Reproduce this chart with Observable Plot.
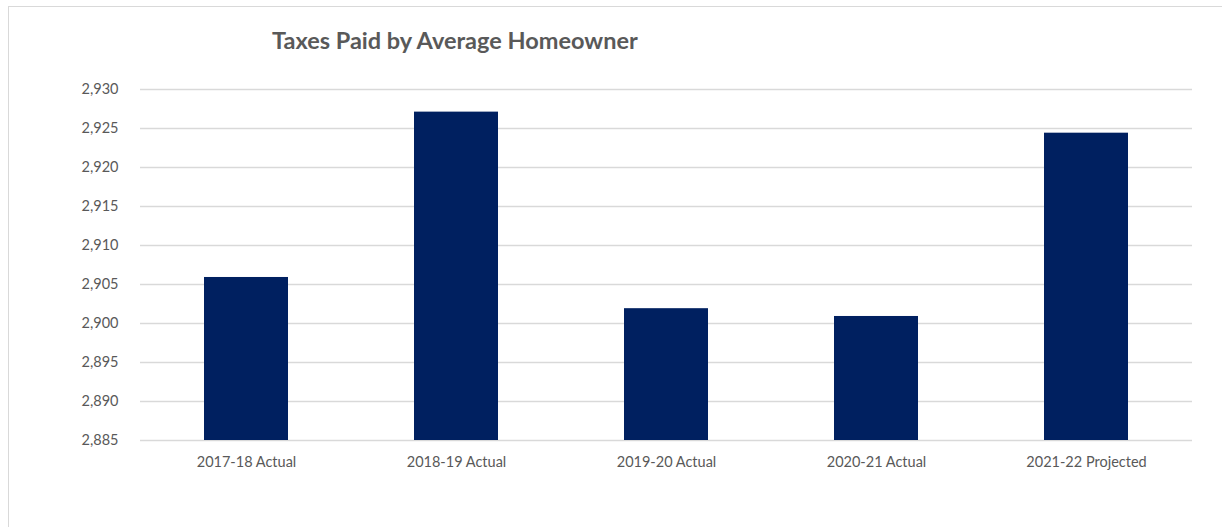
<!DOCTYPE html>
<html>
<head>
<meta charset="utf-8">
<script src="https://cdn.jsdelivr.net/npm/d3@7"></script>
<script src="https://cdn.jsdelivr.net/npm/@observablehq/plot@0.6"></script>
<style>
  html, body { margin: 0; padding: 0; background: #fff; }
  body { width: 1222px; height: 527px; position: relative; overflow: hidden; font-family: Lato, "Open Sans", sans-serif; }
  #frame { position: absolute; left: 8px; top: 6px; width: 1300px; height: 600px; border-top: 1.5px solid #d9d9d9; border-left: 1.5px solid #d9d9d9; }
  #title { position: absolute; left: 272px; top: 29px; font-size: 23.5px; font-weight: bold; color: #595959; white-space: nowrap; line-height: 1; }
  #chart { position: absolute; left: 0; top: 70px; }
</style>
</head>
<body>
<div id="frame"></div>
<div id="title">Taxes Paid by Average Homeowner</div>
<div id="chart"></div>
<script>
const categories = ["2017-18 Actual", "2018-19 Actual", "2019-20 Actual", "2020-21 Actual", "2021-22 Projected"];
const taxes = [2905.9, 2927.1, 2901.9, 2900.9, 2924.4];
const yTicks = [2885, 2890, 2895, 2900, 2905, 2910, 2915, 2920, 2925, 2930];

const data = categories.map((c, i) => ({category: c, value: taxes[i]}));

const chart = Plot.plot({
  width: 1222,
  height: 457,
  marginTop: 19,
  marginLeft: 140,
  marginRight: 30,
  marginBottom: 87,
  style: {fontFamily: "Lato, 'Open Sans', sans-serif", fontSize: "14.5px", color: "#595959", background: "transparent"},
  x: {domain: categories, paddingInner: 0.6, paddingOuter: 0.3, label: null, tickSize: 0, tickPadding: 16},
  y: {domain: [2885, 2930], ticks: yTicks, tickFormat: d3.format(","), label: null, tickSize: 0, tickPadding: 22},
  marks: [
    Plot.ruleY(yTicks, {stroke: "#d9d9d9", strokeWidth: 1.5}),
    Plot.barY(data, {x: "category", y1: 2885, y2: "value", fill: "#002060"})
  ]
});
document.getElementById("chart").appendChild(chart);
</script>
</body>
</html>
